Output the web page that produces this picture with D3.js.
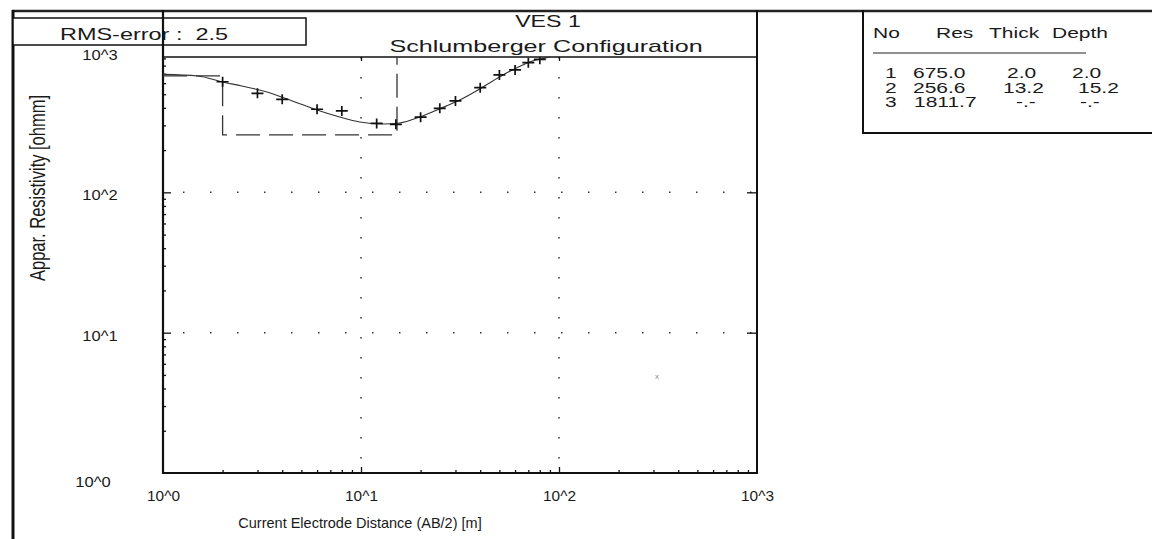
<!DOCTYPE html>
<html>
<head>
<meta charset="utf-8">
<script src="https://cdn.jsdelivr.net/npm/d3@7"></script>
<style>
  body { margin: 0; background: #fff; }
  svg { display: block; }
  text { font-family: "Liberation Sans", Arial, sans-serif; fill: #1a1a1a; white-space: pre; }
</style>
</head>
<body>
<script>
// field data: AB/2 [m] and apparent resistivity [ohmm]
const abHalf = [2, 3, 4, 6, 8, 12, 15, 20, 25, 30, 40, 50, 60, 70, 80];
const rhoObs = [614, 508, 460, 391, 380, 310, 305, 343, 397, 448, 557, 686, 745, 839, 887];

// calculated (fitted) curve
const fitX = [1, 1.5, 2, 2.5, 3.35, 4.5, 6, 7.8, 9.85, 12.9, 15.7, 19.8, 24.9, 31.5, 39.7, 50, 61, 73.4, 89.5, 110];
const fitY = [693, 675, 611, 572, 519, 448, 386, 344, 317, 307, 312, 344, 393, 455, 545, 664, 769, 863, 921, 1050];

// layer model
const layerNo = [1, 2, 3];
const layerRes = [675.0, 256.6, 1811.7];
const layerThick = [2.0, 13.2];
const layerDepth = [2.0, 15.2];
const rmsError = 2.5;

const decades = [1, 10, 100, 1000];
const decadeLabels = ["10^0", "10^1", "10^2", "10^3"];

const W = 1152, H = 539;
const L = 163, R = 757, T = 57, B = 473;

const svg = d3.select("body").append("svg")
    .attr("width", W)
    .attr("height", H);

const x = d3.scaleLog().domain([1, 1000]).range([L, R]);
const y = d3.scaleLog().domain([1, 1000]).range([B, 52]);

function label(parent, px, py, s, size, sx, anchor) {
    return parent.append("text")
        .attr("transform", `translate(${px},${py}) scale(${sx},1)`)
        .attr("text-anchor", anchor || "start")
        .style("font-size", size + "px")
        .text(s);
}

svg.append("defs").append("clipPath").attr("id", "plot")
    .append("rect").attr("x", L).attr("y", T).attr("width", R - L).attr("height", B - T);

// outer frame
svg.append("line").attr("x1", 12).attr("x2", W).attr("y1", 11).attr("y2", 11)
    .attr("stroke", "#222").attr("stroke-width", 2.5);
svg.append("line").attr("x1", 13).attr("x2", 13).attr("y1", 10).attr("y2", H)
    .attr("stroke", "#111").attr("stroke-width", 3);

// RMS box
svg.append("rect").attr("x", 13).attr("y", 18).attr("width", 293).attr("height", 27)
    .attr("fill", "#fff").attr("stroke", "#111").attr("stroke-width", 1.5);
label(svg, 60, 40, "RMS-error :  " + rmsError.toFixed(1), 17, 1.38);

// titles
label(svg, 548, 27, "VES 1", 16, 1.45, "middle");
label(svg, 546, 52, "Schlumberger Configuration", 17, 1.48, "middle");

// minor tick values
const minor = [];
[1, 10, 100].forEach(d => { for (let k = 2; k < 10; k++) minor.push(d * k); });

// grid (dotted)
const grid = svg.append("g").attr("clip-path", "url(#plot)");
grid.selectAll(".vg").data([10, 100]).enter().append("line")
    .attr("x1", d => x(d)).attr("x2", d => x(d))
    .attr("y1", T).attr("y2", B)
    .attr("stroke", "#333").attr("stroke-width", 1.5)
    .attr("stroke-dasharray", "1.5,18.5");
grid.selectAll(".hg").data([10, 100]).enter().append("line")
    .attr("x1", L + 20).attr("x2", R)
    .attr("y1", d => y(d)).attr("y2", d => y(d))
    .attr("stroke", "#333").attr("stroke-width", 1.5)
    .attr("stroke-dasharray", "1.5,25.5");

// axes: left
const gl = svg.append("g").attr("transform", `translate(${L},0)`);
gl.call(d3.axisLeft(y).tickValues(minor).tickSize(-3).tickFormat(""));
gl.append("g").call(d3.axisLeft(y).tickValues([10, 100]).tickSize(-8).tickFormat(""));
gl.selectAll(".domain").remove();
const glab = svg.append("g").attr("transform", `translate(${L},3)`)
    .call(d3.axisLeft(y).tickValues(decades).tickSize(0).tickPadding(44)
        .tickFormat((d, i) => decadeLabels[i]));
glab.select(".domain").remove();
glab.selectAll("text")
    .style("font-size", "14px").attr("font-family", null)
    .attr("text-anchor", "middle").attr("x", null)
    .attr("transform", "translate(-63,0) scale(1.18,1)");
glab.selectAll("text").filter(d => d === 1)
    .attr("transform", "translate(-70,0) scale(1.18,1)").attr("dy", "0.75em");

// axes: bottom
const gb = svg.append("g").attr("transform", `translate(0,${B})`);
gb.call(d3.axisBottom(x).tickValues(minor).tickSize(-3).tickFormat(""));
gb.append("g").call(d3.axisBottom(x).tickValues([10, 100]).tickSize(-6).tickFormat(""));
gb.selectAll(".domain").remove();
const blab = svg.append("g").attr("transform", `translate(0,${B})`)
    .call(d3.axisBottom(x).tickValues(decades).tickSize(0).tickPadding(18)
        .tickFormat((d, i) => decadeLabels[i]));
blab.select(".domain").remove();
blab.selectAll("text").style("font-size", "14px").attr("font-family", null)
    .attr("transform", "scale(1.1,1)").attr("x", 0);

// axes: right and top
const gr = svg.append("g").attr("transform", `translate(${R},0)`);
gr.call(d3.axisRight(y).tickValues([10, 100]).tickSize(-10).tickFormat(""));
gr.select(".domain").remove();
const gt = svg.append("g").attr("transform", `translate(0,${T})`);
gt.call(d3.axisTop(x).tickValues([10, 100]).tickSize(-4).tickFormat(""));
gt.select(".domain").remove();
svg.selectAll(".tick line").attr("stroke", "#111").attr("stroke-width", 1.3);

// plot border lines
svg.append("line").attr("x1", L).attr("x2", L).attr("y1", 10).attr("y2", B + 1)
    .attr("stroke", "#111").attr("stroke-width", 2.2);
svg.append("line").attr("x1", L).attr("x2", R + 1).attr("y1", B).attr("y2", B)
    .attr("stroke", "#111").attr("stroke-width", 2);
svg.append("line").attr("x1", R).attr("x2", R).attr("y1", 10).attr("y2", B + 1)
    .attr("stroke", "#111").attr("stroke-width", 2);
svg.append("line").attr("x1", L).attr("x2", R).attr("y1", T).attr("y2", T)
    .attr("stroke", "#111").attr("stroke-width", 1.3);

// data layer
const plot = svg.append("g").attr("clip-path", "url(#plot)");

// layered model (step)
const stepPts = [[1, layerRes[0]]].concat(layerDepth.map((d, i) => [d, layerRes[i + 1]]));
plot.append("path")
    .attr("d", d3.line().x(d => x(d[0])).y(d => y(d[1])).curve(d3.curveStepAfter)(stepPts))
    .attr("fill", "none").attr("stroke", "#333").attr("stroke-width", 1.3)
    .attr("stroke-dasharray", "24,9");

// fitted curve
plot.append("path")
    .attr("d", d3.line().x((d, i) => x(fitX[i])).y(d => y(d)).curve(d3.curveMonotoneX)(fitY))
    .attr("fill", "none").attr("stroke", "#333").attr("stroke-width", 1.1);

// observed points as crosses
plot.selectAll(".obs").data(abHalf).enter().append("path")
    .attr("transform", (d, i) => `translate(${x(d)},${y(rhoObs[i])})`)
    .attr("d", "M-6,0H6M0,-5V5")
    .attr("stroke", "#111").attr("stroke-width", 1.7);

// axis titles
svg.append("text")
    .attr("transform", "translate(45,188) rotate(-90) scale(1,1.3)")
    .attr("text-anchor", "middle")
    .style("font-size", "16.5px")
    .text("Appar. Resistivity [ohmm]");
label(svg, 360, 528, "Current Electrode Distance (AB/2) [m]", 14.5, 1.0, "middle");

// stray mark in scan
label(svg, 657, 379, "x", 8, 1, "middle").style("fill", "#888");

// layer table
svg.append("line").attr("x1", 863).attr("x2", 863).attr("y1", 10).attr("y2", 134)
    .attr("stroke", "#111").attr("stroke-width", 2);
svg.append("line").attr("x1", 862).attr("x2", W).attr("y1", 133).attr("y2", 133)
    .attr("stroke", "#111").attr("stroke-width", 2);

const heads = ["No", "Res", "Thick", "Depth"];
const headX = [873, 936, 989, 1052];
heads.forEach((h, i) => label(svg, headX[i], 38, h, 15, 1.4));
svg.append("line").attr("x1", 873).attr("x2", 1086).attr("y1", 53).attr("y2", 53)
    .attr("stroke", "#222").attr("stroke-width", 1.2);

const rowY = [78, 93, 107];
layerNo.forEach((n, i) => {
    label(svg, 885, rowY[i], String(n), 14, 1.5);
    label(svg, i === 2 ? 914 : 913, rowY[i], layerRes[i].toFixed(1), 14, 1.5);
    label(svg, i === 1 ? 1003 : (i === 2 ? 1016 : 1007), rowY[i], i < 2 ? layerThick[i].toFixed(1) : "-.-", 14, 1.5);
    label(svg, i === 1 ? 1078 : (i === 2 ? 1080 : 1072), rowY[i], i < 2 ? layerDepth[i].toFixed(1) : "-.-", 14, 1.5);
});
</script>
</body>
</html>
